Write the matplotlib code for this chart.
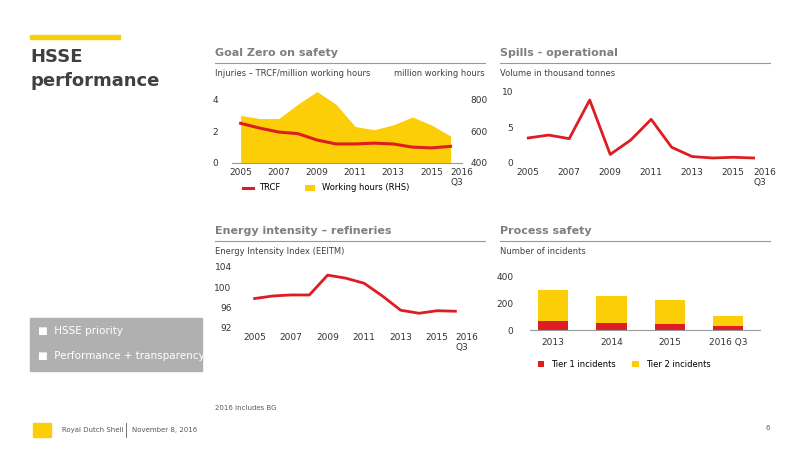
import numpy as np
import matplotlib.pyplot as plt
from matplotlib.patches import Rectangle

years = np.arange(2005, 2017)
year_ticks = [2005, 2007, 2009, 2011, 2013, 2015, 2016]
year_labels = ["2005", "2007", "2009", "2011", "2013", "2015", "2016\nQ3"]

working_hours = [700, 680, 680, 770, 850, 770, 630, 610, 640, 690, 640, 570]
trcf = [2.5, 2.2, 1.95, 1.85, 1.45, 1.2, 1.2, 1.25, 1.2, 1.0, 0.95, 1.05]
spills = [3.5, 3.9, 3.4, 8.8, 1.2, 3.2, 6.1, 2.2, 0.9, 0.7, 0.8, 0.7]
energy = [97.8, 98.3, 98.5, 98.5, 102.4, 101.8, 100.8, 98.3, 95.5, 94.9, 95.4, 95.3]

ps_labels = ["2013", "2014", "2015", "2016 Q3"]
tier1 = [65, 55, 45, 30]
tier2 = [235, 200, 175, 75]

RED = "#dd1d21"
YEL = "#fbce07"
GREY = "#595959"
W, H = 800, 450
plt.rcParams["font.family"] = ["Liberation Sans Narrow", "DejaVu Sans"]


def ax_px(x0, y0, x1, y1):
    return fig.add_axes([x0 / W, 1 - y1 / H, (x1 - x0) / W, (y1 - y0) / H])


def style(ax):
    for s in ["top", "right", "left"]:
        ax.spines[s].set_visible(False)
    ax.spines["bottom"].set_color("#999999")
    ax.tick_params(length=0, labelsize=6.5, colors="#333333")
    for t in ax.get_xticklabels():
        if "\n" in t.get_text():
            t.set_horizontalalignment("left")


def header(x0, x1, y, title, sub):
    fig.text(x0 / W, 1 - y / H, title, fontsize=8, fontweight="bold", color="#7f7f7f", va="bottom")
    fig.add_artist(plt.Line2D([x0 / W, x1 / W], [1 - (y + 5) / H] * 2, color="#999999", lw=0.8))
    fig.text(x0 / W, 1 - (y + 20) / H, sub, fontsize=6, color="#404040", va="bottom")


fig = plt.figure(figsize=(8, 4.5), dpi=100)

# left side
fig.add_artist(Rectangle((30 / W, 1 - 39 / H), 90 / W, 4 / H, color=YEL, transform=fig.transFigure))
fig.text(30 / W, 1 - 62 / H, "HSSE", fontsize=13, fontweight="bold", color="#404040")
fig.text(30 / W, 1 - 86 / H, "performance", fontsize=13, fontweight="bold", color="#404040")
fig.add_artist(Rectangle((30 / W, 1 - 371 / H), 172 / W, 53 / H, color="#b0b0b0", transform=fig.transFigure))
fig.text(38 / W, 1 - 331 / H, "■  HSSE priority", fontsize=7.5, color="white", va="center")
fig.text(38 / W, 1 - 356 / H, "■  Performance + transparency", fontsize=7.5, color="white", va="center")

# Goal Zero
header(215, 485, 58, "Goal Zero on safety", "Injuries – TRCF/million working hours")
fig.text(485 / W, 1 - 78 / H, "million working hours", fontsize=6, color="#404040", va="bottom", ha="right")
ax = ax_px(232, 90, 462, 163)
ax2 = ax.twinx()
ax2.fill_between(years, 400, working_hours, color=YEL, lw=0, label="Working hours (RHS)")
ax2.set_ylim(400, 860)
ax2.set_yticks([400, 600, 800])
ax.plot(years, trcf, color=RED, lw=2.2, label="TRCF")
ax.set_zorder(ax2.get_zorder() + 1)
ax.patch.set_visible(False)
ax.set_ylim(0, 4.6)
ax.set_yticks([0, 2, 4])
ax.set_xlim(2004.55, 2016.6)
ax.set_xticks(year_ticks, year_labels)
for a in (ax, ax2):
    style(a)
ax2.spines["bottom"].set_visible(False)
ax.tick_params(axis="y", pad=10)
ax2.tick_params(axis="y", pad=6)
h1, l1 = ax.get_legend_handles_labels()
h2, l2 = ax2.get_legend_handles_labels()
fig.legend(h1 + h2, l1 + l2, loc="center left", bbox_to_anchor=(235 / W, 1 - 188 / H), ncol=2,
           frameon=False, fontsize=6, handlelength=1.2, columnspacing=3)

# Spills
header(500, 770, 58, "Spills - operational", "Volume in thousand tonnes")
ax = ax_px(518, 90, 770, 163)
ax.plot(years, spills, color=RED, lw=2)
ax.set_ylim(0, 10.2)
ax.set_yticks([0, 5, 10])
ax.set_xlim(2004.5, 2016.8)
ax.set_xticks(year_ticks, year_labels)
style(ax)
ax.spines["bottom"].set_visible(False)

# Energy intensity
header(215, 485, 236, "Energy intensity – refineries", "Energy Intensity Index (EEITM)")
ax = ax_px(240, 267, 470, 328)
ax.plot(years, energy, color=RED, lw=2)
ax.set_ylim(92, 104)
ax.set_yticks([92, 96, 100, 104])
ax.set_xlim(2004.2, 2016.8)
ax.set_xticks(year_ticks, year_labels)
style(ax)
ax.spines["bottom"].set_visible(False)
ax.tick_params(axis="y", pad=6)

# Process safety
header(500, 770, 236, "Process safety", "Number of incidents")
ax = ax_px(530, 268, 760, 330)
x = np.arange(len(ps_labels))
ax.bar(x, tier1, width=0.52, color=RED, label="Tier 1 incidents")
ax.bar(x, tier2, width=0.52, bottom=tier1, color=YEL, label="Tier 2 incidents")
ax.set_xlim(-0.4, 3.55)
ax.set_ylim(0, 460)
ax.set_yticks([0, 200, 400])
ax.set_xticks(x, ps_labels)
style(ax)
ax.tick_params(axis="y", pad=12)
ax.tick_params(axis="x", pad=6)
ax.legend(loc="center left", bbox_to_anchor=(0.0, -0.55), ncol=2, frameon=False, fontsize=6,
          handlelength=0.8, handleheight=0.8, columnspacing=2)

# footer
fig.text(215 / W, 1 - 408 / H, "2016 includes BG", fontsize=5, color="#595959", va="center")
fig.add_artist(Rectangle((33 / W, 1 - 437 / H), 18 / W, 14 / H, color=YEL, transform=fig.transFigure))
fig.text(62 / W, 1 - 430 / H, "Royal Dutch Shell", fontsize=5, color=GREY, va="center")
fig.add_artist(plt.Line2D([126 / W] * 2, [1 - 423 / H, 1 - 437 / H], color=GREY, lw=0.6))
fig.text(132 / W, 1 - 430 / H, "November 8, 2016", fontsize=5, color=GREY, va="center")
fig.text(766 / W, 1 - 428 / H, "6", fontsize=5, color=GREY, va="center")

fig.savefig("out.png", dpi=100)
